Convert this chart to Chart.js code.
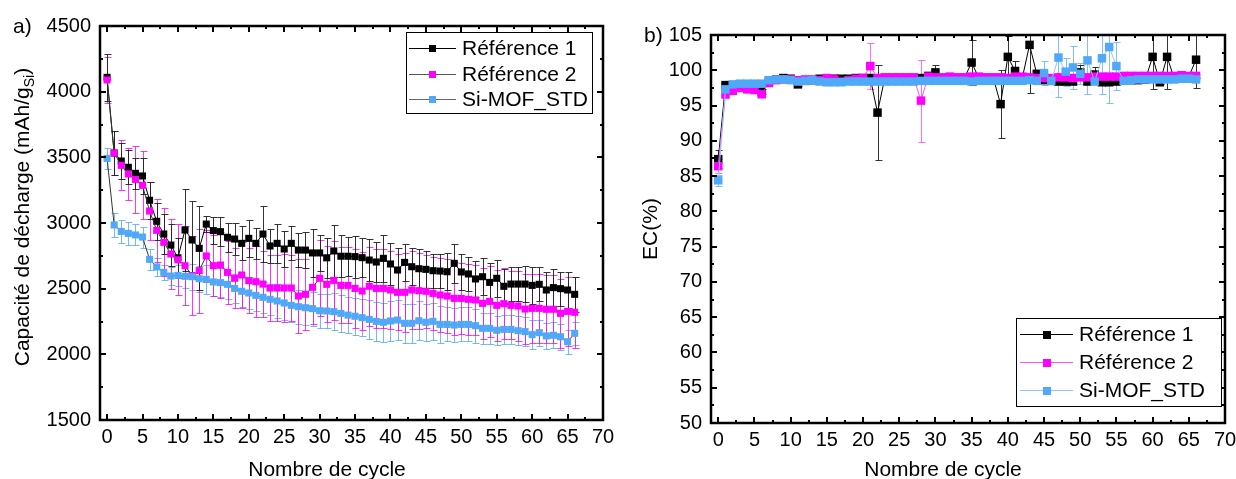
<!DOCTYPE html>
<html>
<head>
<meta charset="utf-8">
<script src="https://cdn.jsdelivr.net/npm/chart.js@4.4.1/dist/chart.umd.min.js"></script>
<style>
  html, body { margin: 0; padding: 0; background: #fff; }
  #wrap { position: relative; width: 1236px; height: 479px; overflow: hidden; }
  canvas { position: absolute; top: 0; }
  #capChart { left: 0; }
  #ecChart { left: 615px; }
</style>
</head>
<body>
<div id="wrap">
  <canvas id="capChart" width="615" height="479"></canvas>
  <canvas id="ecChart" width="621" height="479"></canvas>
</div>
<script>
// ---- data ----
const cycles = Array.from({ length: 67 }, (_, i) => i);
const seriesNames = ['Référence 1', 'Référence 2', 'Si-MOF_STD'];
const xTicks = [0, 5, 10, 15, 20, 25, 30, 35, 40, 45, 50, 55, 60, 65, 70];
const capTicks = [1500, 2000, 2500, 3000, 3500, 4000, 4500];
const ecTicks = [50, 55, 60, 65, 70, 75, 80, 85, 90, 95, 100, 105];

// a) discharge capacity (mAh/g Si)
const capRef1 = [
  4109, 3533, 3472, 3424, 3378, 3358, 3173, 3013, 2916, 2832,
  2735, 2947, 2871, 2807, 2992, 2942, 2934, 2891, 2878, 2845,
  2883, 2845, 2916, 2825, 2845, 2802, 2845, 2794, 2794, 2772,
  2772, 2735, 2787, 2747, 2747, 2744, 2736, 2718, 2703, 2731,
  2688, 2642, 2700, 2667, 2652, 2647, 2637, 2634, 2629, 2693,
  2627, 2612, 2574, 2591, 2548, 2579, 2518, 2535, 2535, 2535,
  2525, 2533, 2490, 2508, 2500, 2490, 2457];
const capRef1Err = [
  180, 165, 140, 130, 120, 135, 140, 140, 150, 160,
  150, 310, 300, 320, 60, 100, 110, 110, 120, 130,
  140, 120, 215, 130, 150, 140, 130, 130, 140, 180,
  140, 150, 200, 160, 150, 160, 150, 160, 150, 180,
  160, 170, 140, 140, 150, 140, 130, 130, 140, 150,
  140, 130, 140, 140, 150, 140, 130, 130, 130, 140,
  140, 130, 140, 140, 130, 140, 135];
const capRef2 = [
  4089, 3533, 3439, 3373, 3332, 3287, 3091, 2944, 2853, 2764,
  2720, 2675, 2600, 2637, 2749, 2675, 2680, 2624, 2579, 2604,
  2561, 2553, 2535, 2505, 2505, 2505, 2505, 2444, 2457, 2510,
  2579, 2533, 2563, 2525, 2525, 2502, 2482, 2518, 2502, 2502,
  2490, 2472, 2472, 2490, 2485, 2480, 2464, 2452, 2444, 2426,
  2426, 2419, 2414, 2388, 2403, 2373, 2386, 2373, 2368, 2345,
  2350, 2350, 2343, 2343, 2312, 2327, 2320];
const capRef2Err = [
  175, 165, 190, 200, 255, 260, 220, 240, 260, 270,
  270, 300, 300, 320, 200, 230, 250, 240, 230, 250,
  250, 270, 250, 250, 250, 260, 250, 280, 270, 280,
  290, 290, 300, 290, 290, 300, 300, 300, 300, 300,
  300, 290, 300, 300, 290, 280, 280, 280, 280, 280,
  270, 270, 270, 270, 270, 270, 270, 260, 270, 270,
  260, 260, 260, 260, 260, 260, 270];
const capMof = [
  3492, 2985, 2936, 2921, 2909, 2893, 2723, 2665, 2624, 2596,
  2601, 2594, 2591, 2576, 2571, 2551, 2546, 2533, 2502, 2480,
  2467, 2449, 2434, 2419, 2406, 2391, 2373, 2363, 2355, 2348,
  2332, 2330, 2325, 2312, 2299, 2290, 2279, 2266, 2251, 2244,
  2254, 2261, 2236, 2236, 2256, 2244, 2251, 2228, 2228, 2223,
  2228, 2228, 2218, 2198, 2198, 2183, 2190, 2190, 2180, 2173,
  2150, 2165, 2140, 2145, 2134, 2096, 2160];
const capMofErr = [
  80, 90, 85, 85, 80, 80, 80, 70, 60, 70,
  80, 90, 100, 100, 110, 110, 110, 110, 110, 120,
  120, 120, 120, 120, 130, 130, 130, 130, 130, 130,
  130, 130, 140, 140, 140, 140, 140, 150, 150, 150,
  150, 150, 150, 150, 150, 140, 140, 140, 130, 130,
  130, 130, 130, 120, 120, 110, 110, 110, 110, 110,
  110, 100, 100, 100, 100, 90, 90];

// b) coulombic efficiency (%)
const ecRef1 = [
  87.4, 97.9, 97.8, 98.0, 97.6, 97.5, 97.0, 98.5, 98.7, 98.9,
  98.8, 98.0, 98.5, 98.6, 98.8, 98.8, 98.8, 98.8, 98.8, 98.9,
  98.9, 98.9, 94.0, 98.9, 98.9, 98.9, 98.9, 98.9, 98.9, 99.2,
  99.7, 98.9, 98.9, 98.9, 98.9, 101.1, 98.9, 98.9, 98.9, 95.2,
  101.9, 99.9, 98.9, 103.6, 99.5, 98.6, 98.5, 98.4, 98.4, 98.4,
  99.7, 98.4, 99.4, 98.3, 98.3, 98.4, 98.6, 98.6, 98.6, 98.7,
  101.9, 98.3, 101.9, 98.8, 98.9, 99.1, 101.5];
const ecRef1Err = [
  1.3, 0.4, 0.3, 0.3, 0.3, 0.3, 0.4, 0.3, 0.2, 0.3,
  0.2, 0.3, 0.2, 0.2, 0.2, 0.2, 0.2, 0.2, 0.2, 0.2,
  0.2, 0.3, 6.7, 0.2, 0.2, 0.2, 0.2, 0.2, 0.2, 0.6,
  1.0, 0.2, 0.2, 0.2, 0.2, 3.2, 0.2, 0.2, 0.2, 4.8,
  3.0, 1.4, 0.2, 6.8, 0.6, 0.3, 0.3, 0.3, 0.3, 0.3,
  1.0, 0.3, 1.0, 0.3, 0.3, 0.3, 0.3, 0.3, 0.3, 0.3,
  4.5, 0.3, 4.5, 0.3, 0.3, 0.5, 4.0];
const ecRef2 = [
  86.4, 96.6, 97.1, 97.5, 97.3, 97.2, 96.6, 98.2, 98.6, 98.7,
  98.7, 98.6, 98.7, 98.7, 98.6, 98.9, 98.7, 98.4, 98.6, 98.8,
  98.9, 100.6, 98.9, 99.0, 99.0, 99.0, 99.0, 99.0, 95.7, 99.1,
  99.0, 99.0, 99.1, 99.0, 99.0, 99.1, 99.1, 99.0, 99.0, 99.0,
  98.9, 99.1, 99.1, 99.0, 98.9, 98.9, 98.9, 99.0, 99.0, 98.9,
  99.0, 99.0, 99.1, 99.1, 99.1, 99.1, 99.2, 99.2, 99.2, 99.2,
  99.2, 99.2, 99.2, 99.2, 99.3, 99.2, 99.2];
const ecRef2Err = [
  1.0, 0.6, 0.3, 0.3, 0.3, 0.3, 0.3, 0.3, 0.3, 0.3,
  0.3, 0.3, 0.3, 0.3, 0.3, 0.3, 0.3, 0.3, 0.3, 0.3,
  0.3, 3.3, 0.3, 0.3, 0.3, 0.3, 0.3, 0.3, 5.8, 0.3,
  0.3, 0.3, 0.3, 0.3, 0.3, 0.3, 0.3, 0.3, 0.3, 0.3,
  0.3, 0.3, 0.3, 0.3, 0.3, 0.3, 0.3, 0.3, 0.3, 0.3,
  0.3, 0.3, 0.3, 0.3, 0.3, 0.3, 0.3, 0.3, 0.3, 0.3,
  0.3, 0.3, 0.3, 0.3, 0.3, 0.3, 0.3];
const ecMof = [
  84.4, 97.3, 98.0, 98.1, 98.1, 98.1, 98.1, 98.6, 98.7, 98.7,
  98.6, 98.4, 98.5, 98.6, 98.4, 98.3, 98.3, 98.3, 98.4, 98.4,
  98.4, 98.4, 98.4, 98.4, 98.4, 98.4, 98.4, 98.4, 98.5, 98.5,
  98.5, 98.5, 98.5, 98.5, 98.5, 98.4, 98.5, 98.5, 98.5, 98.5,
  98.5, 98.5, 98.5, 98.6, 98.5, 99.6, 98.5, 101.8, 99.8, 100.4,
  99.5, 101.4, 98.4, 101.7, 103.3, 100.6, 98.5, 98.6, 98.7, 98.7,
  98.7, 98.7, 98.7, 98.7, 98.8, 98.8, 98.7];
const ecMofErr = [
  0.8, 0.4, 0.2, 0.2, 0.2, 0.2, 0.2, 0.2, 0.2, 0.2,
  0.2, 0.2, 0.2, 0.2, 0.2, 0.2, 0.2, 0.2, 0.2, 0.2,
  0.2, 0.2, 0.2, 0.2, 0.2, 0.2, 0.2, 0.2, 0.2, 0.2,
  0.2, 0.2, 0.2, 0.2, 0.2, 0.2, 0.2, 0.2, 0.2, 0.2,
  0.2, 0.2, 0.2, 0.2, 0.2, 1.7, 0.2, 5.6, 2.0, 3.0,
  1.5, 4.7, 0.2, 5.1, 8.0, 3.4, 0.2, 0.2, 0.2, 0.2,
  0.2, 0.2, 0.2, 0.2, 0.2, 0.2, 0.2];

// ---- look ----
const FONT = "'Liberation Sans', Arial, sans-serif";
const BLACK = '#000000', MAGENTA = '#ff00ff', BLUE = '#4fa8f8';

// vertical error bars with caps, drawn through the chart scales
const errorBars = {
  id: 'errorBars',
  beforeDatasetsDraw(chart) {
    const { ctx, chartArea: a, scales: { x, y } } = chart;
    ctx.save();
    ctx.beginPath(); ctx.rect(a.left, a.top, a.right - a.left, a.bottom - a.top); ctx.clip();
    ctx.lineWidth = 1;
    chart.data.datasets.slice().reverse().forEach(ds => {
      if (!ds.errors) return;
      ctx.strokeStyle = ds.errorColor;
      ds.data.forEach((p, j) => {
        const e = ds.errors[j]; if (!e) return;
        const px = Math.round(x.getPixelForValue(p.x)) + 0.5;
        const yt = Math.round(y.getPixelForValue(p.y + e)) + 0.5;
        const yb = Math.round(y.getPixelForValue(p.y - e)) + 0.5;
        ctx.beginPath();
        ctx.moveTo(px, yt); ctx.lineTo(px, yb);
        ctx.moveTo(px - 3, yt); ctx.lineTo(px + 4, yt);
        ctx.moveTo(px - 3, yb); ctx.lineTo(px + 4, yb);
        ctx.stroke();
      });
    });
    ctx.restore();
  }
};

// Origin-style box with inward ticks on all four sides
const frame = {
  id: 'frame',
  afterDraw(chart, args, o) {
    const { ctx, chartArea: a, scales: { x, y } } = chart;
    const mids = t => t.slice(1).map((v, i) => (v + t[i]) / 2);
    ctx.save();
    ctx.strokeStyle = '#000';
    ctx.lineWidth = 2;
    ctx.beginPath();
    const tick = (len, xs, ys) => {
      xs.forEach(v => {
        const px = Math.round(x.getPixelForValue(v));
        ctx.moveTo(px, a.bottom); ctx.lineTo(px, a.bottom - len);
        ctx.moveTo(px, a.top); ctx.lineTo(px, a.top + len);
      });
      ys.forEach(v => {
        const py = Math.round(y.getPixelForValue(v));
        ctx.moveTo(a.left, py); ctx.lineTo(a.left + len, py);
        ctx.moveTo(a.right, py); ctx.lineTo(a.right - len, py);
      });
    };
    tick(6, o.xMajor, o.yMajor);
    tick(3, mids(o.xMajor), mids(o.yMajor));
    ctx.stroke();
    ctx.lineWidth = 2.5;
    ctx.strokeRect(a.left, a.top, a.right - a.left, a.bottom - a.top);
    ctx.restore();
  }
};

// legend box: line + square marker + name
const boxLegend = {
  id: 'boxLegend',
  afterDraw(chart, args, o) {
    const ctx = chart.ctx;
    ctx.save();
    ctx.fillStyle = '#fff';
    ctx.fillRect(o.box[0], o.box[1], o.box[2], o.box[3]);
    ctx.strokeStyle = '#000'; ctx.lineWidth = 1;
    ctx.strokeRect(o.box[0] + 0.5, o.box[1] + 0.5, o.box[2], o.box[3]);
    ctx.font = `21px ${FONT}`;
    ctx.textBaseline = 'middle';
    ctx.textAlign = 'left';
    chart.data.datasets.forEach((ds, i) => {
      const yy = o.rows[i];
      ctx.strokeStyle = o.lineColors[i]; ctx.lineWidth = 1;
      ctx.beginPath(); ctx.moveTo(o.line[0], yy + 0.5); ctx.lineTo(o.line[1], yy + 0.5); ctx.stroke();
      const m = (o.line[0] + o.line[1]) / 2, s = o.mark;
      ctx.fillStyle = ds.pointBackgroundColor;
      ctx.fillRect(Math.round(m - s / 2), Math.round(yy - s / 2 + 0.5), s, s);
      ctx.fillStyle = '#000';
      ctx.fillText(ds.label, o.textX, yy + 1);
    });
    ctx.restore();
  }
};

// panel letter and axis titles
const titles = {
  id: 'titles',
  afterDraw(chart, args, o) {
    const ctx = chart.ctx;
    ctx.save();
    ctx.fillStyle = '#000';
    ctx.textBaseline = 'middle';
    ctx.font = `21px ${FONT}`;
    ctx.textAlign = 'left';
    ctx.fillText(o.letter[0], o.letter[1], o.letter[2]);
    ctx.textAlign = 'center';
    ctx.fillText(o.xTitle[0], o.xTitle[1], o.xTitle[2]);
    // rotated y title, parts may be subscripted
    const parts = o.yTitle.parts;
    const widths = parts.map(p => { ctx.font = `${p.size}px ${FONT}`; return ctx.measureText(p.t).width; });
    const total = widths.reduce((s, w) => s + w, 0);
    ctx.translate(o.yTitle.x, o.yTitle.y);
    ctx.rotate(-Math.PI / 2);
    ctx.textAlign = 'left';
    ctx.textBaseline = 'alphabetic';
    let cx = -total / 2;
    parts.forEach((p, i) => {
      ctx.font = `${p.size}px ${FONT}`;
      ctx.fillText(p.t, cx, 7 + (p.dy || 0));
      cx += widths[i];
    });
    ctx.restore();
  }
};

function makeSeries(vals, errs, color, line, errColor, order, r) {
  return {
    data: cycles.map((c, i) => ({ x: c, y: vals[i] })),
    errors: errs, errorColor: errColor,
    borderColor: line, borderWidth: 1,
    pointStyle: 'rect', pointRadius: r, pointHoverRadius: r,
    pointBackgroundColor: color, pointBorderColor: color, pointBorderWidth: 0,
    tension: 0, order: order
  };
}

function buildChart(id, p) {
  return new Chart(document.getElementById(id), {
    type: 'line',
    data: {
      datasets: p.series.map((s, i) => Object.assign(s, { label: seriesNames[i] }))
    },
    options: {
      responsive: false, animation: false, devicePixelRatio: 1,
      layout: { padding: { left: 0, top: p.area.top, right: p.area.right, bottom: 0 } },
      plugins: {
        legend: { display: false }, tooltip: { enabled: false },
        frame: { xMajor: xTicks, yMajor: p.yTicks },
        boxLegend: p.legend,
        titles: p.titles
      },
      scales: {
        x: {
          type: 'linear', min: -1, max: 70,
          grid: { display: false, drawTicks: false }, border: { display: false },
          afterBuildTicks: s => { s.ticks = xTicks.map(v => ({ value: v })); },
          afterFit: s => { s.height = p.area.xh; s.paddingLeft = 0; s.paddingRight = 0; },
          ticks: { font: { family: FONT, size: 20 }, color: '#000', padding: 5, maxRotation: 0, autoSkip: false,
                   callback: v => String(v) }
        },
        y: {
          type: 'linear', min: p.yTicks[0], max: p.yTicks[p.yTicks.length - 1],
          grid: { display: false, drawTicks: false }, border: { display: false },
          afterBuildTicks: s => { s.ticks = p.yTicks.map(v => ({ value: v })); },
          afterFit: s => { s.width = p.area.yw; s.paddingTop = 0; s.paddingBottom = 0; },
          ticks: { font: { family: FONT, size: 20 }, color: '#000', padding: 9, autoSkip: false,
                   callback: v => String(v) }
        }
      }
    },
    plugins: [errorBars, frame, boxLegend, titles]
  });
}

buildChart('capChart', {
  area: { top: 26, right: 12, xh: 59, yw: 100 },
  yTicks: capTicks,
  series: [
    makeSeries(capRef1, capRef1Err, BLACK, '#000000', 'rgba(30,30,30,0.9)', 3, 5),
    makeSeries(capRef2, capRef2Err, MAGENTA, '#333333', 'rgba(255,0,255,0.8)', 2, 5),
    makeSeries(capMof, capMofErr, BLUE, '#333333', 'rgba(80,168,248,0.8)', 1, 5)
  ],
  legend: { box: [406, 32, 186, 81], rows: [48, 74, 99], line: [409, 456], mark: 7, textX: 462,
            lineColors: ['#000', '#555', '#666'] },
  titles: {
    letter: ['a)', 13, 27],
    xTitle: ['Nombre de cycle', 327, 470],
    yTitle: { x: 22, y: 217, parts: [
      { t: 'Capacité de décharge (mAh/g', size: 21 },
      { t: 'Si', size: 14, dy: 5 },
      { t: ')', size: 21 }
    ] }
  }
});

buildChart('ecChart', {
  area: { top: 35, right: 11, xh: 56, yw: 96 },
  yTicks: ecTicks,
  series: [
    makeSeries(ecRef1, ecRef1Err, BLACK, '#000000', 'rgba(30,30,30,0.9)', 3, 6),
    makeSeries(ecRef2, ecRef2Err, MAGENTA, '#ff55ff', 'rgba(255,80,255,0.85)', 2, 6),
    makeSeries(ecMof, ecMofErr, BLUE, '#8cc6ff', 'rgba(110,185,255,0.9)', 1, 6)
  ],
  legend: { box: [401, 318, 205, 88], rows: [334, 362, 390], line: [405, 458], mark: 8, textX: 464,
            lineColors: ['#000', '#ff55ff', '#8cc6ff'] },
  titles: {
    letter: ['b)', 29, 36],
    xTitle: ['Nombre de cycle', 328, 470],
    yTitle: { x: 35, y: 229, parts: [{ t: 'EC(%)', size: 21 }] }
  }
});
</script>
</body>
</html>
